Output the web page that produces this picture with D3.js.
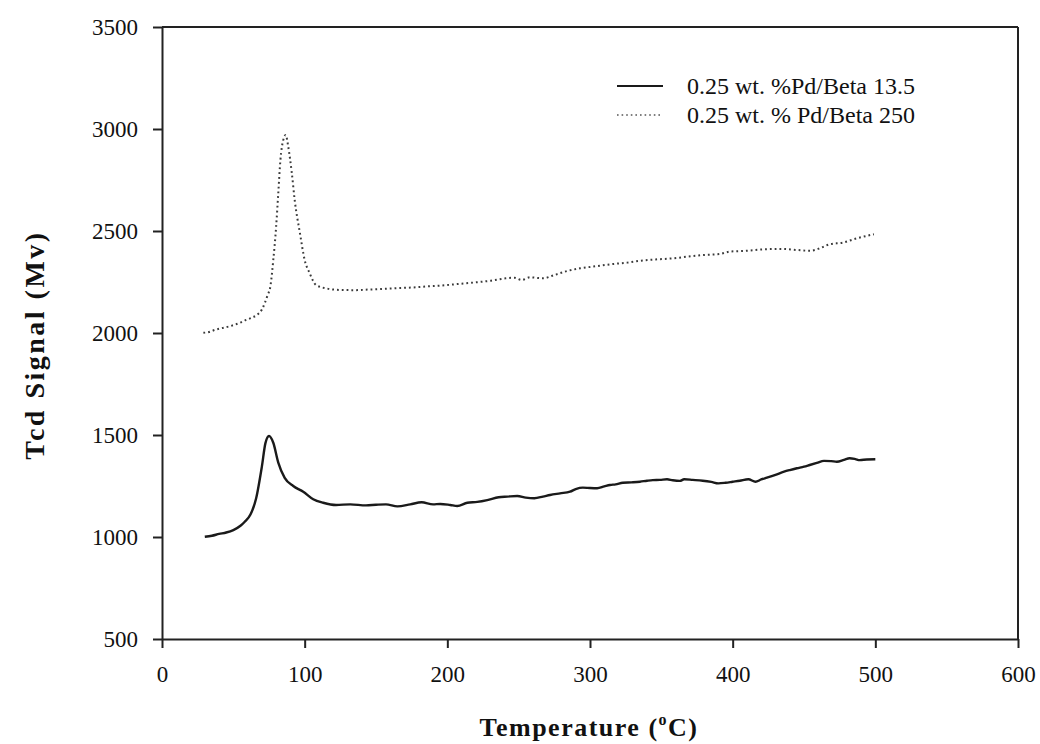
<!DOCTYPE html>
<html>
<head>
<meta charset="utf-8">
<script src="https://cdn.jsdelivr.net/npm/d3@7"></script>
<style>
  html, body { margin: 0; padding: 0; background: #fff; }
  svg { display: block; }
  text { font-family: "Liberation Serif", "Times New Roman", serif; fill: #111; }
</style>
</head>
<body>
<script>
// ---- Data ----
const seriesNames = ["0.25 wt. %Pd/Beta 13.5", "0.25 wt. % Pd/Beta 250"];

const tempA = [30,35,40,45,50,55,58,62,66,70,72.5,75,78,81.5,86,92,99,106,113,122,132,143,150,157,165,174,182,190,195,202,207,214,221,228,236,242,249,255,261,267,272,279,286,290,295,300,305,310,314,318,323,329,335,340,344,349,354,358,363,366,372,379,385,390,395,400,405,411,416,420,424,430,436,440,445,450,454,459,464,469,473,478,482,486,489,494,500];
const signalA = [1001,1006,1015,1022,1034,1055,1075,1110,1190,1345,1460,1495,1462,1365,1290,1250,1222,1185,1168,1157,1160,1155,1158,1160,1150,1160,1170,1160,1162,1157,1152,1168,1172,1181,1195,1198,1201,1193,1190,1198,1206,1214,1222,1235,1242,1240,1239,1248,1255,1258,1266,1268,1271,1276,1279,1280,1283,1278,1275,1283,1280,1276,1270,1263,1266,1271,1276,1283,1271,1282,1291,1305,1320,1328,1337,1345,1353,1363,1373,1372,1369,1378,1386,1382,1377,1380,1381];

const tempB = [29,33,37,42,48,54,59,63,66.5,70,72,74,76,78,80,81.5,83,85,86.7,88.5,91,93,96.7,100,103.5,108,115,125,135,145,155,165,175,185,195,207,218,230,241,247,252,258,267,275,284,293,305,316,326,335,347,358,368,379,391,398,410,421,435,445,454,461,468,477,487,499];
const signalB = [2001,2005,2015,2024,2034,2048,2064,2075,2088,2115,2146,2185,2230,2358,2521,2685,2848,2946,2971,2913,2783,2652,2489,2358,2293,2235,2219,2211,2210,2213,2216,2220,2223,2228,2232,2240,2247,2256,2268,2271,2260,2273,2268,2284,2304,2317,2328,2338,2345,2354,2361,2366,2374,2382,2387,2399,2403,2410,2412,2407,2403,2415,2435,2443,2464,2484];

const xTicks = [0,100,200,300,400,500,600];
const yTicks = [500,1000,1500,2000,2500,3000,3500];

// ---- Layout ----
const W = 1040, H = 744;
const mL = 162, mR = 1018, mT = 27, mB = 639;

const svg = d3.select("body").append("svg").attr("width", W).attr("height", H);
svg.append("rect").attr("width", W).attr("height", H).attr("fill", "#fff");

const x = d3.scaleLinear().domain([0, 600]).range([mL, mR]);
const y = d3.scaleLinear().domain([500, 3500]).range([mB, mT]);

// Frame (top and right lines)
svg.append("line").attr("x1", mL).attr("x2", mR).attr("y1", mT).attr("y2", mT)
  .attr("stroke", "#222").attr("stroke-width", 2);
svg.append("line").attr("x1", mR).attr("x2", mR).attr("y1", mT).attr("y2", mB)
  .attr("stroke", "#222").attr("stroke-width", 2);

// Axes
const xAxis = svg.append("g").attr("transform", `translate(0,${mB})`)
  .call(d3.axisBottom(x).tickValues(xTicks).tickSizeInner(9).tickSizeOuter(0).tickPadding(18).tickFormat(d3.format("d")));
const yAxis = svg.append("g").attr("transform", `translate(${mL},0)`)
  .call(d3.axisLeft(y).tickValues(yTicks).tickSizeInner(9).tickSizeOuter(0).tickPadding(15).tickFormat(d3.format("d")));

[xAxis, yAxis].forEach(g => {
  g.select(".domain").attr("stroke", "#222").attr("stroke-width", 2);
  g.selectAll(".tick line").attr("stroke", "#222").attr("stroke-width", 2);
  g.selectAll(".tick text").attr("font-family", "Liberation Serif, Times New Roman, serif")
    .attr("font-size", 23).attr("fill", "#111");
});

// Lines
const dataA = tempA.map((t, i) => [t, signalA[i]]);
const dataB = tempB.map((t, i) => [t, signalB[i]]);
const lineGen = d3.line().x(d => x(d[0])).y(d => y(d[1])).curve(d3.curveMonotoneX);

svg.append("path").datum(dataA).attr("d", lineGen)
  .attr("fill", "none").attr("stroke", "#1a1a1a").attr("stroke-width", 2.4).attr("stroke-linejoin", "round");
svg.append("path").datum(dataB).attr("d", lineGen)
  .attr("fill", "none").attr("stroke", "#3a3a3a").attr("stroke-width", 2)
  .attr("stroke-dasharray", "1.8,3").attr("stroke-linecap", "butt");

// Legend
const leg = svg.append("g");
leg.append("line").attr("x1", 617).attr("x2", 663).attr("y1", 86).attr("y2", 86)
  .attr("stroke", "#1a1a1a").attr("stroke-width", 2);
leg.append("line").attr("x1", 617).attr("x2", 663).attr("y1", 115).attr("y2", 115)
  .attr("stroke", "#555").attr("stroke-width", 1.6).attr("stroke-dasharray", "1.6,3");
leg.append("text").attr("x", 687).attr("y", 94).attr("font-size", 24).text(seriesNames[0]);
leg.append("text").attr("x", 687).attr("y", 123).attr("font-size", 24).text(seriesNames[1]);

// Axis titles
const xt = svg.append("text").attr("x", 589).attr("y", 736)
  .attr("text-anchor", "middle").attr("font-size", 26).attr("font-weight", "bold")
  .attr("letter-spacing", 1.5);
xt.append("tspan").text("Temperature (");
xt.append("tspan").attr("font-size", 16).attr("dy", -11).text("o");
xt.append("tspan").attr("dy", 11).text("C)");

svg.append("text").attr("transform", `translate(44,345) rotate(-90)`)
  .attr("text-anchor", "middle").attr("font-size", 28).attr("font-weight", "bold")
  .attr("letter-spacing", 2.5)
  .text("Tcd Signal (Mv)");
</script>
</body>
</html>
